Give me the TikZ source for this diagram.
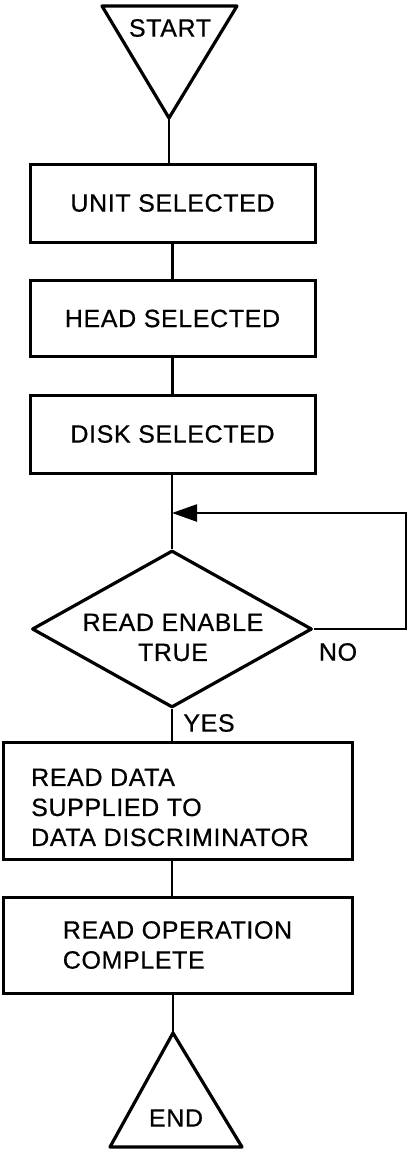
\documentclass[tikz,border=0pt]{standalone}
\usepackage{fontspec}
\setmainfont{Liberation Sans}[FakeBold=0.6, LetterSpace=2.5]
\usetikzlibrary{shapes.geometric,arrows.meta}
\tikzset{
  box/.style={draw, line width=3pt, rectangle, inner sep=0pt, minimum width=285pt, minimum height=78pt, align=center},
  bigbox/.style={draw, line width=3pt, rectangle, inner sep=0pt, minimum width=349pt, align=left},
  shapeline/.style={line width=3.2pt, line join=round},
  conn/.style={line width=2.4pt},
  txt/.style={inner sep=0pt, align=center},
  every node/.style={font=\fontsize{25}{30}\selectfont}
}
\begin{document}
\begin{tikzpicture}[x=1pt,y=-1pt]
\useasboundingbox (0,0) rectangle (409,1151);
% START triangle
\coordinate (s1) at (102,6);
\coordinate (s2) at (237,6);
\coordinate (sapex) at (169,118);
\draw[shapeline] (s1) -- (s2) -- (sapex) -- cycle;
\node[txt] (start) at (170,28) {START};
% boxes
\node[box] (unit) at (172.5,203) {UNIT SELECTED};
\node[box, minimum height=76pt] (head) at (172.5,318.5) {HEAD SELECTED};
\node[box] (disk) at (172.5,434) {DISK SELECTED};
% decision
\node[draw, diamond, shapeline, inner sep=0pt, minimum width=280pt, minimum height=157pt] (dec) at (172,629) {};
\node[txt] (dect) at (173,637.5) {READ ENABLE\\TRUE};
\node[txt] (no) at (338,652) {NO};
\node[txt] (yes) at (209,723) {YES};
% read data box
\node[bigbox, minimum height=117pt] (rdata) at (177.5,800.5) {};
\node[txt, anchor=west, align=left] (rdatat) at (31,807.5) {READ DATA\\SUPPLIED TO\\DATA DISCRIMINATOR};
\node[bigbox, minimum height=96pt] (rop) at (177.5,945) {READ OPERATION\\COMPLETE};
% END triangle
\coordinate (eapex) at (173,1033);
\coordinate (e1) at (110,1147);
\coordinate (e2) at (242,1147);
\draw[shapeline] (eapex) -- (e2) -- (e1) -- cycle;
\node[txt] (endt) at (176,1118) {END};
% connectors
\draw[conn] (sapex) -- (sapex |- unit.north);
\draw[conn] (unit.south) -- (head.north);
\draw[conn] (head.south) -- (disk.north);
\draw[conn] (disk.south -| dec.north) -- (dec.north);
\coordinate (loopin) at (172,513);
\coordinate (loopc1) at (406,629);
\coordinate (loopc2) at (406,513);
\draw[conn, -{Triangle[length=25pt,width=17pt]}] (dec.east) -- (loopc1) -- (loopc2) -- (loopin);
\draw[conn] (dec.south) -- (dec.south |- rdata.north);
\draw[conn] (dec.south |- rdata.south) -- (dec.south |- rop.north);
\draw[conn] (eapex |- rop.south) -- (eapex);
\end{tikzpicture}
\end{document}
